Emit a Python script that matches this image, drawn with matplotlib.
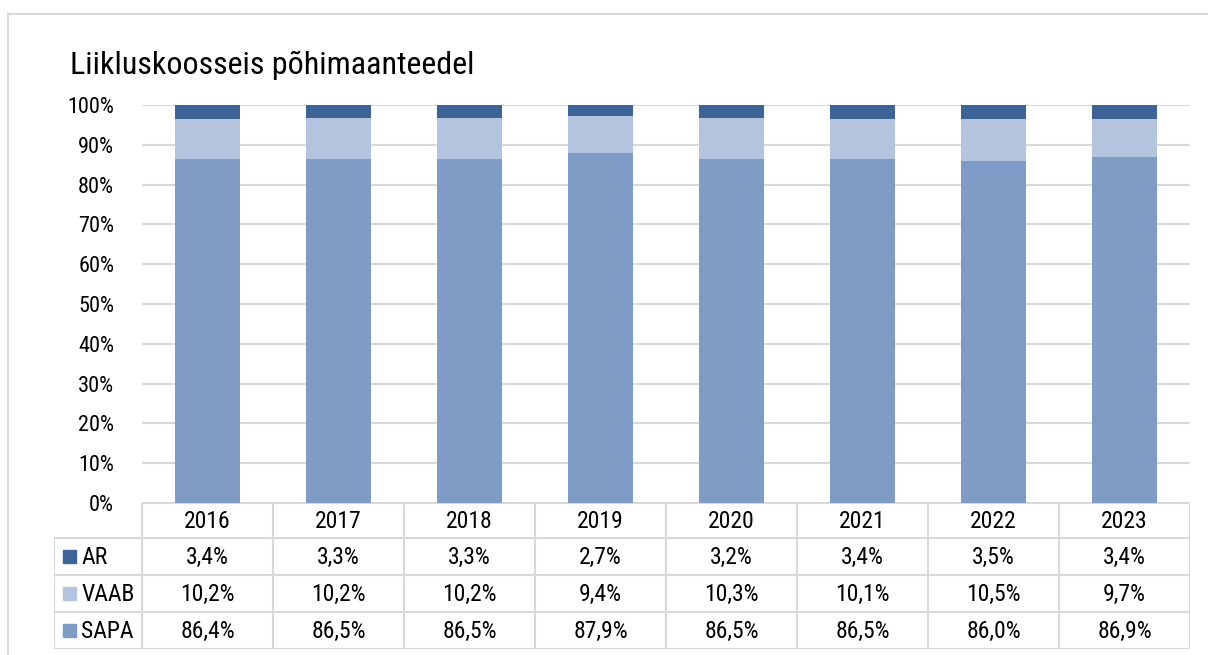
import matplotlib
matplotlib.use("Agg")
import matplotlib.pyplot as plt
from matplotlib import font_manager
from matplotlib.patches import Rectangle
from matplotlib.lines import Line2D
import numpy as np

years = ["2016", "2017", "2018", "2019", "2020", "2021", "2022", "2023"]
series = ["AR", "VAAB", "SAPA"]
sapa = [86.4, 86.5, 86.5, 87.9, 86.5, 86.5, 86.0, 86.9]
vaab = [10.2, 10.2, 10.2, 9.4, 10.3, 10.1, 10.5, 9.7]
ar = [3.4, 3.3, 3.3, 2.7, 3.2, 3.4, 3.5, 3.4]
colors = {"AR": "#3c6496", "VAAB": "#b4c3de", "SAPA": "#7f9cc7"}

# pick a narrow font if there is one
font = "Roboto"
for name in ["Roboto Condensed", "Roboto"]:
    try:
        font_manager.findfont(name, fallback_to_default=False)
        font = name
        break
    except Exception:
        pass
plt.rcParams["font.family"] = [font, "DejaVu Sans"]

W, H = 1208, 655
fig = plt.figure(figsize=(W / 100, H / 100), dpi=100)


def fx(x):
    return x / W


def fy(y):
    return 1 - y / H


# outer frame
fig.patches.append(Rectangle((fx(8), fy(670)), fx(1220) - fx(8), fy(14) - fy(670),
                             transform=fig.transFigure, fill=False,
                             edgecolor="#d9d9d9", linewidth=1.5))

fig.text(fx(70), fy(74), "Liikluskoosseis põhimaanteedel", fontsize=23,
         color="#000000", va="baseline", ha="left")

# plot area
left, right, top, bottom = 142, 1190, 105, 503
ax = fig.add_axes([fx(left), fy(bottom), fx(right - left), fy(top) - fy(bottom)])
x = np.arange(len(years))
ax.bar(x, sapa, width=0.5, color=colors["SAPA"], zorder=3)
ax.bar(x, vaab, width=0.5, bottom=sapa, color=colors["VAAB"], zorder=3)
ax.bar(x, ar, width=0.5, bottom=np.array(sapa) + np.array(vaab),
       color=colors["AR"], zorder=3)
ax.set_xlim(-0.5, len(years) - 0.5)
ax.set_ylim(0, 100)
ax.set_yticks(np.arange(0, 101, 10))
ax.set_yticklabels(["%d%%" % v for v in range(0, 101, 10)], fontsize=16)
ax.tick_params(axis="y", length=0, pad=20)
ax.set_xticks([])
ax.grid(axis="y", color="#d9d9d9", linewidth=1.5, zorder=0)
for s in ax.spines.values():
    s.set_visible(False)

# data table under the plot
unit = (right - left) / len(years)
tleft = 54
row_h = [35, 37, 37, 37]
tax = fig.add_axes([fx(tleft), fy(bottom + sum(row_h)), fx(right - tleft), fy(bottom) - fy(bottom + sum(row_h))])
x0 = -0.5 - (left - tleft) / unit
tax.set_xlim(x0, len(years) - 0.5)
tax.set_ylim(sum(row_h), 0)
tax.axis("off")
lc = "#d9d9d9"
lw = 1.5
edges = np.cumsum([0] + row_h)
tax.add_line(Line2D([-0.5, len(years) - 0.5], [edges[0], edges[0]], color=lc, lw=lw))
for e in edges[1:]:
    tax.add_line(Line2D([x0, len(years) - 0.5], [e, e], color=lc, lw=lw))
tax.add_line(Line2D([x0, x0], [edges[1], edges[-1]], color=lc, lw=lw))
for i in range(len(years) + 1):
    tax.add_line(Line2D([i - 0.5, i - 0.5], [edges[0], edges[-1]], color=lc, lw=lw))

for i, yr in enumerate(years):
    tax.text(i, (edges[0] + edges[1]) / 2 + 1, yr, ha="center", va="center", fontsize=17)

rows = [("AR", ar), ("VAAB", vaab), ("SAPA", sapa)]
sq = 13 / unit
for r, (name, vals) in enumerate(rows):
    yc = (edges[r + 1] + edges[r + 2]) / 2
    tax.add_patch(Rectangle((x0 + 9 / unit, yc - 6.5), sq, 13, color=colors[name]))
    tax.text(x0 + 27 / unit, yc + 1, name, ha="left", va="center", fontsize=17)
    for i, v in enumerate(vals):
        tax.text(i, yc + 1, ("%.1f%%" % v).replace(".", ","), ha="center",
                 va="center", fontsize=17)

fig.savefig("out.png", dpi=100)
